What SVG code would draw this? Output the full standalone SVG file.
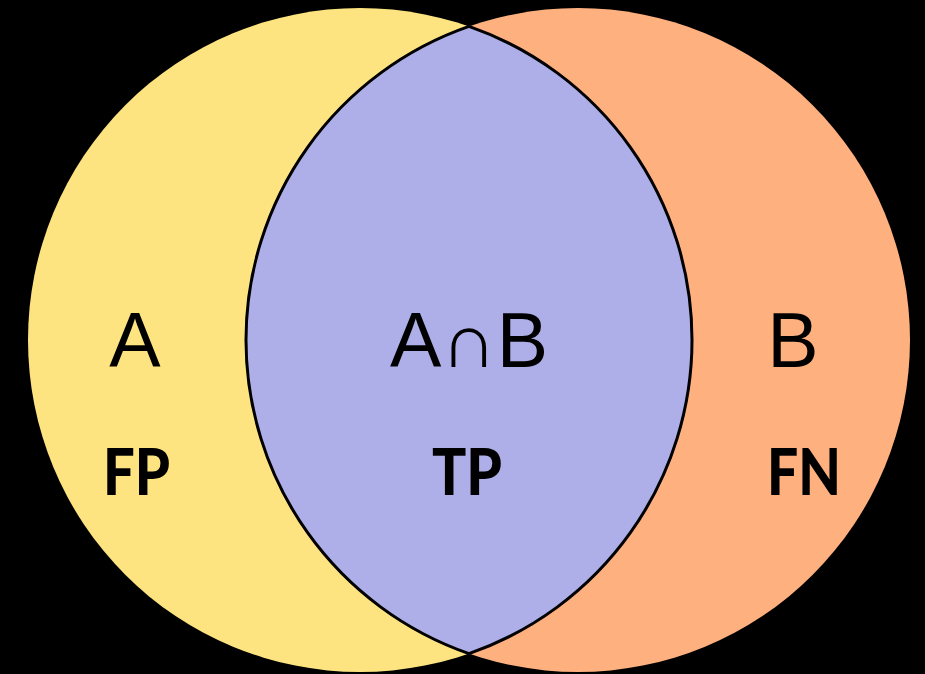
<svg xmlns="http://www.w3.org/2000/svg" width="925" height="674" viewBox="0 0 925 674">
  <style>
    .set { font-family: "Liberation Sans", "DejaVu Sans", sans-serif; font-size: 77px; fill: #000; text-anchor: middle; }
    .cls { font-family: "Lato", "Open Sans", sans-serif; font-weight: 900; font-size: 65px; fill: #000; text-anchor: middle; }
  </style>
  <rect x="0" y="0" width="925" height="674" fill="#000"/>
  <g id="setA">
    <circle cx="360" cy="340" r="332" fill="#fee481"/>
    <text class="set" x="135" y="367">A</text>
    <text class="cls" x="136.5" y="495" textLength="67" lengthAdjust="spacingAndGlyphs">FP</text>
  </g>
  <g id="setB">
    <circle cx="578" cy="340" r="332" fill="#ffb07f"/>
    <text class="set" x="793" y="367">B</text>
    <text class="cls" x="804" y="495" textLength="74" lengthAdjust="spacingAndGlyphs">FN</text>
  </g>
  <g id="intersection">
    <path d="M469,26.4 A332,332 0 0,1 469,653.6 A332,332 0 0,1 469,26.4 Z" fill="#aeaee8" stroke="#000" stroke-width="3"/>
    <text class="set" x="469" y="367">A∩B</text>
    <text class="cls" x="467" y="495" textLength="70" lengthAdjust="spacingAndGlyphs">TP</text>
  </g>
</svg>
